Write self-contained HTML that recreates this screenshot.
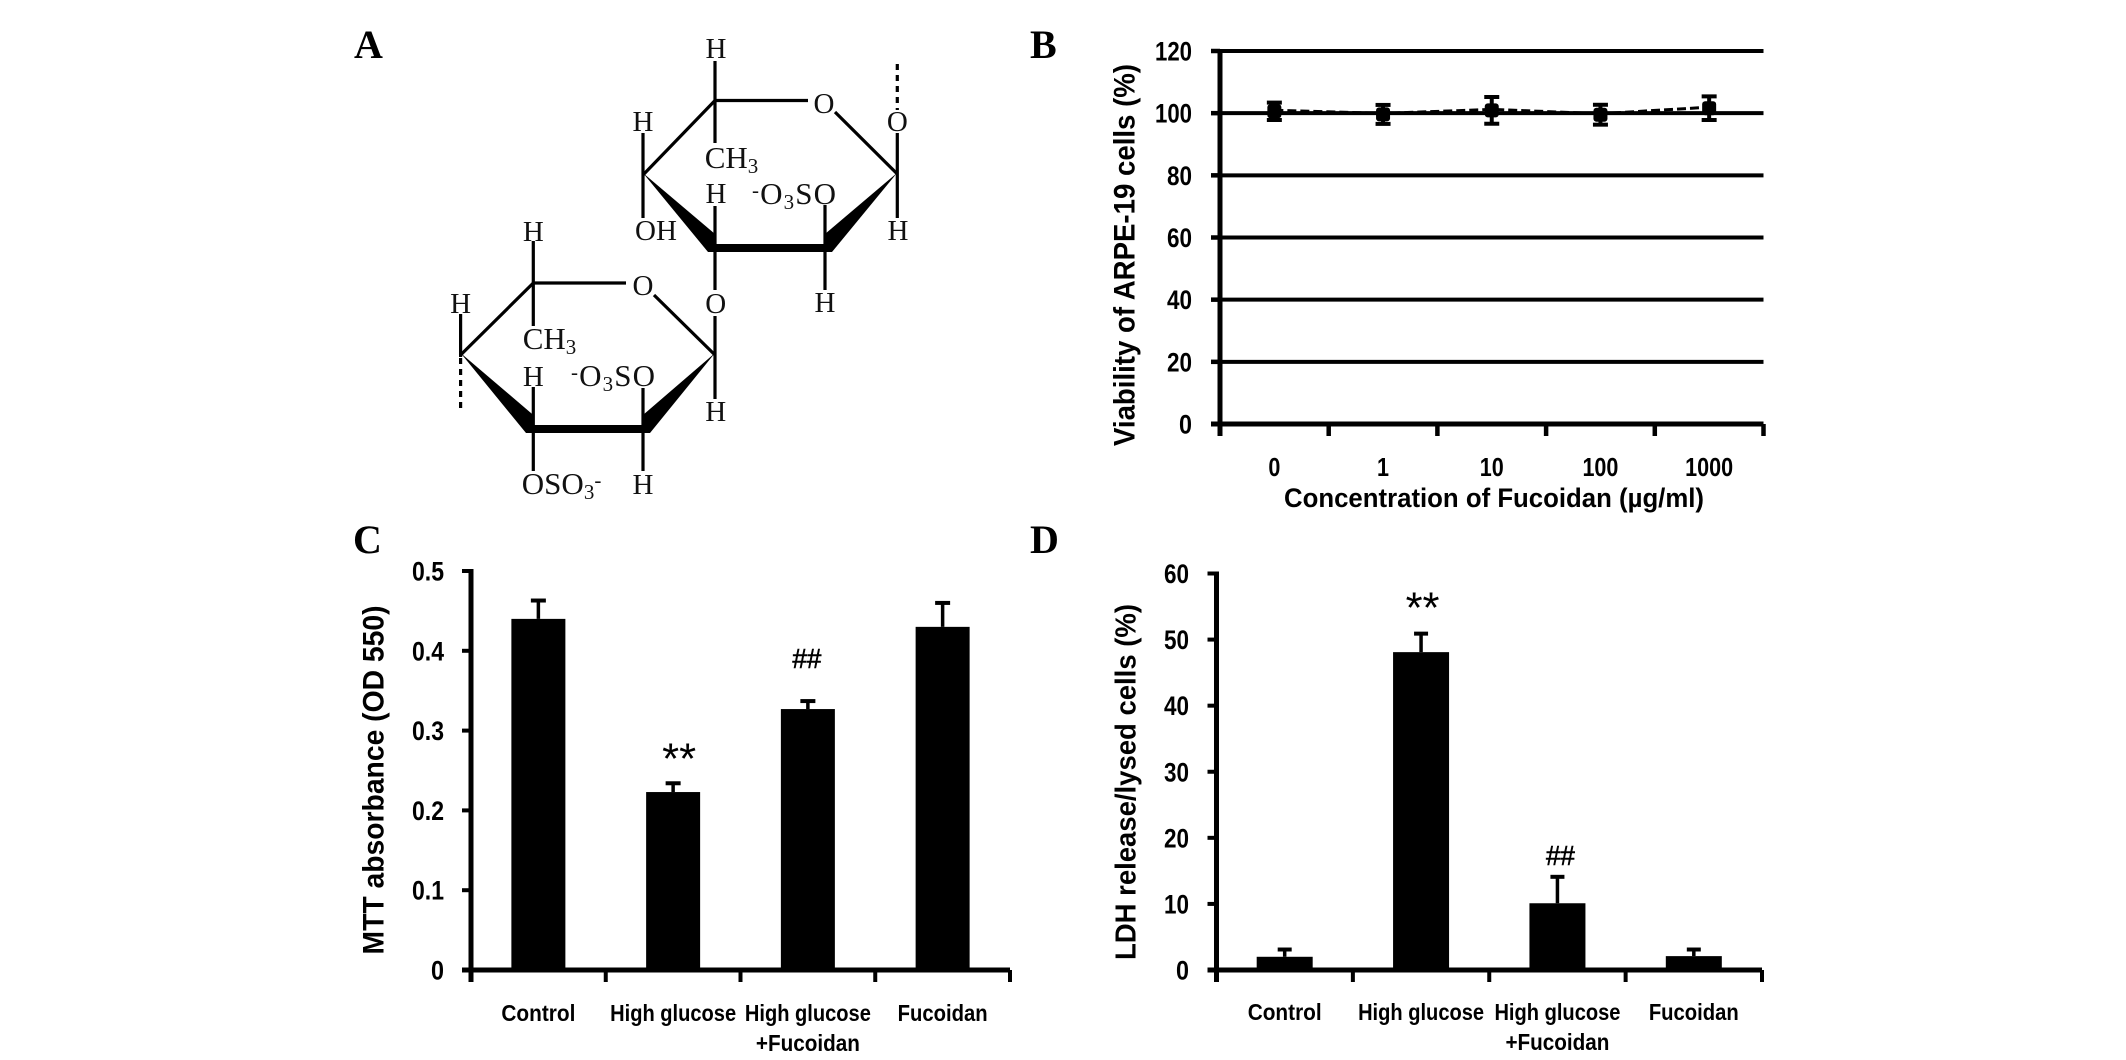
<!DOCTYPE html>
<html>
<head>
<meta charset="utf-8">
<title>Fucoidan figure</title>
<style>
html,body{margin:0;padding:0;background:#fff;}
svg{display:block;}
.mol text{font-family:"Liberation Serif",serif;font-size:29px;fill:#111;}
.mol text.wide{font-size:31px;}
.mol line{stroke:#000;stroke-width:3.2;}
.letter{font-family:"Liberation Serif",serif;font-weight:bold;font-size:40px;fill:#000;}
</style>
</head>
<body>
<svg id="fig" xmlns="http://www.w3.org/2000/svg" width="2126" height="1060" viewBox="0 0 2126 1060">
  <rect width="2126" height="1060" fill="#fff"/>
  <text class="letter" x="354" y="58">A</text>
  <text class="letter" x="1030" y="58">B</text>
  <text class="letter" x="353" y="553">C</text>
  <text class="letter" x="1030" y="553">D</text>

  <g class="mol">
    <g>
      <line x1="715" y1="100.5" x2="808" y2="100.5"/>
      <line x1="835" y1="112" x2="897.3" y2="174"/>
      <line x1="715" y1="100.5" x2="643" y2="175"/>
      <line x1="715" y1="61" x2="715" y2="143"/>
      <line x1="643" y1="133" x2="643" y2="218"/>
      <line x1="897.3" y1="133" x2="897.3" y2="218"/>
      <line x1="715" y1="206" x2="715" y2="290"/>
      <line x1="825" y1="205" x2="825" y2="290"/>
      <line x1="715" y1="316" x2="715" y2="355"/>
      <line x1="897.3" y1="64" x2="897.3" y2="110" stroke-dasharray="6 5"/>
      <polygon points="643,173 715,234 715,252 708,252" fill="#000"/>
      <polygon points="897,173 825,234 825,252 832,252" fill="#000"/>
      <rect x="712" y="244" width="116" height="8" fill="#000"/>
    </g>
    <g>
      <line x1="533.3" y1="283" x2="626" y2="283"/>
      <line x1="654" y1="295" x2="715" y2="355"/>
      <line x1="533.3" y1="283" x2="460.6" y2="355"/>
      <line x1="533.3" y1="241" x2="533.3" y2="326"/>
      <line x1="460.6" y1="314" x2="460.6" y2="357"/>
      <line x1="715" y1="355" x2="715" y2="399"/>
      <line x1="533.3" y1="387" x2="533.3" y2="471"/>
      <line x1="643" y1="388" x2="643" y2="471"/>
      <line x1="460.6" y1="358" x2="460.6" y2="410" stroke-dasharray="6 5"/>
      <polygon points="460.6,353 533.3,415 533.3,433 526,433" fill="#000"/>
      <polygon points="715,353 643,415 643,433 650,433" fill="#000"/>
      <rect x="530" y="425" width="116" height="8" fill="#000"/>
    </g>
    <g text-anchor="middle">
      <text x="716" y="58">H</text>
      <text x="824" y="113">O</text>
      <text x="897.3" y="131">O</text>
      <text x="643" y="131">H</text>
      <text x="898" y="240">H</text>
      <text x="656" y="240">OH</text>
      <text x="716" y="203">H</text>
      <text x="825" y="312">H</text>
      <text x="715.7" y="313">O</text>
    </g>
    <text class="wide" x="704.7" y="168">CH<tspan font-size="21" dy="5">3</tspan></text>
    <text class="wide" x="752" y="204" textLength="84" lengthAdjust="spacing"><tspan font-size="21" dy="-7">-</tspan><tspan dy="7">O</tspan><tspan font-size="21" dy="5">3</tspan><tspan dy="-5">SO</tspan></text>
    <g text-anchor="middle">
      <text x="533.3" y="241">H</text>
      <text x="643" y="295">O</text>
      <text x="460.6" y="313">H</text>
      <text x="533.3" y="386">H</text>
      <text x="715.7" y="421">H</text>
      <text x="643" y="494">H</text>
    </g>
    <text class="wide" x="522.7" y="349">CH<tspan font-size="21" dy="5">3</tspan></text>
    <text class="wide" x="571" y="386" textLength="84" lengthAdjust="spacing"><tspan font-size="21" dy="-7">-</tspan><tspan dy="7">O</tspan><tspan font-size="21" dy="5">3</tspan><tspan dy="-5">SO</tspan></text>
    <text class="wide" x="521.8" y="494">OSO<tspan font-size="21" dy="5">3</tspan><tspan font-size="21" dy="-12">-</tspan></text>
  </g>
</svg>
<script>
// Panel B data
var viabilityCategories = ["0", "1", "10", "100", "1000"];
var viabilityValues = [100.6, 99.6, 100.9, 99.5, 101.6];
var viabilityErrors = [2.8, 3.05, 4.3, 3.2, 3.8];
var viabilityTicks = [0, 20, 40, 60, 80, 100, 120];

// Panel C data
var mttCategories = [["Control"], ["High glucose"], ["High glucose", "+Fucoidan"], ["Fucoidan"]];
var mttValues = [0.44, 0.223, 0.327, 0.43];
var mttErrors = [0.023, 0.011, 0.01, 0.03];
var mttTicks = [0, 0.1, 0.2, 0.3, 0.4, 0.5];
var mttMarks = ["", "**", "##", ""];

// Panel D data
var ldhCategories = [["Control"], ["High glucose"], ["High glucose", "+Fucoidan"], ["Fucoidan"]];
var ldhValues = [2.0, 48.1, 10.1, 2.1];
var ldhErrors = [1.1, 2.8, 4.0, 1.0];
var ldhTicks = [0, 10, 20, 30, 40, 50, 60];
var ldhMarks = ["", "**", "##", ""];

var NS = "http://www.w3.org/2000/svg";
var fig = document.getElementById("fig");

function make(tag, parent, attrs) {
  var el = document.createElementNS(NS, tag);
  for (var k in attrs) { el.setAttribute(k, attrs[k]); }
  parent.appendChild(el);
  return el;
}
function seg(parent, x1, y1, x2, y2, w, name) {
  var el = make("line", parent, {x1: x1, y1: y1, x2: x2, y2: y2, stroke: "#000", "stroke-width": w});
  
  
  return el;
}
function label(parent, x, y, str, size, len, anchor, name, rot, weight) {
  var attrs = {x: x, y: y, "font-size": size, "text-anchor": anchor, fill: "#000",
    "font-family": '"Liberation Sans", sans-serif', "font-weight": weight || "bold"};
  if (len) { attrs.textLength = len; attrs.lengthAdjust = "spacingAndGlyphs"; }
  if (rot) { attrs.transform = "rotate(-90 " + x + " " + y + ")"; }
  var el = make("text", parent, attrs);
  el.textContent = str;
  
  
  return el;
}

/* ---------- shared axis ---------- */
function drawAxes(g, box, ticks, fmt, nCats, tickW, numSize) {
  var yMax = ticks[ticks.length - 1];
  var yS = function (v) { return box.bottom - (v / yMax) * (box.bottom - box.top); };
  seg(g, box.left, box.top - 2, box.left, box.bottom + 12, box.axisW, "y-axis-line");
  seg(g, box.left - 9, box.bottom, box.right, box.bottom, box.axisW, "x-axis-line");
  ticks.forEach(function (t) {
    seg(g, box.left - 9, yS(t), box.left, yS(t), tickW, "y-tick");
    var s = fmt(t);
    var n = s.indexOf(".") >= 0 ? 32 : (s.length === 1 ? 13 : (s.length === 2 ? 25 : 37));
    label(g, box.labelRight, yS(t) + 9.5, s, numSize, n, "end", "y-tick-label");
  });
  for (var i = 0; i <= nCats; i++) {
    var x = box.left + (box.right - box.left) * i / nCats;
    seg(g, x, box.bottom, x, box.bottom + 12, tickW, "x-tick");
  }
  return yS;
}

/* ---------- Panel B ---------- */
(function () {
  var g = make("g", fig, {});
  
  
  var box = {left: 1220, right: 1763.5, top: 51, bottom: 424, axisW: 5, labelRight: 1192};
  var fmt = function (t) { return String(t); };
  var yS = drawAxes(g, box, viabilityTicks, fmt, viabilityCategories.length, 4.5, 27);
  var xS = function (i) { return box.left + (box.right - box.left) * (i + 0.5) / viabilityCategories.length; };
  viabilityTicks.forEach(function (t) {
    if (t === 0) { return; }
    seg(g, box.left, yS(t), box.right, yS(t), 4, "gridline");
  });
  var pts = viabilityValues.map(function (v, i) { return xS(i) + "," + (yS(v) - 1); }).join(" ");
  var line = make("polyline", g, {points: pts, fill: "none", stroke: "#000", "stroke-width": 3, "stroke-dasharray": "9 4"});
  
  
  viabilityValues.forEach(function (v, i) {
    var x = xS(i), hi = yS(v + viabilityErrors[i]), lo = yS(v - viabilityErrors[i]);
    seg(g, x, hi, x, lo, 4, "error-bar");
    seg(g, x - 7.5, hi, x + 7.5, hi, 4, "error-cap");
    seg(g, x - 7.5, lo, x + 7.5, lo, 4, "error-cap");
    var m = make("rect", g, {x: x - 7, y: yS(v) - 7, width: 14, height: 14, rx: 3, fill: "#000"});
    
    
    var w = viabilityCategories[i].length;
    label(g, x, 476, viabilityCategories[i], 26, w === 1 ? 12 : w === 2 ? 24 : w === 3 ? 36 : 48, "middle", "x-tick-label");
  });
  label(g, 1494, 507, "Concentration of Fucoidan (µg/ml)", 27, 420, "middle", "x-axis-title");
  label(g, 1134.5, 255, "Viability of ARPE-19 cells (%)", 30, 382, "middle", "y-axis-title", true);
})();

/* ---------- Bar panels ---------- */
function barPanel(name, box, cats, vals, errs, ticks, marks, fmt, barW, capW, title, titleX, titleY, titleLen, titleSize, labelY, wrapY, markY) {
  var g = make("g", fig, {});
  
  
  var yS = drawAxes(g, box, ticks, fmt, cats.length, 4, 27);
  var xS = function (i) { return box.left + (box.right - box.left) * (i + 0.5) / cats.length; };
  vals.forEach(function (v, i) {
    var x = xS(i), top = yS(v), hi = yS(v + errs[i]);
    seg(g, x, top, x, hi, 3.5, "error-bar");
    seg(g, x - capW, hi, x + capW, hi, 4, "error-cap");
    var b = make("rect", g, {x: x - barW / 2, y: top, width: barW, height: box.bottom - top, fill: "#000"});
    
    
    cats[i].forEach(function (t, j) {
      var len = t === "Control" ? 74 : t === "High glucose" ? 126 : t === "Fucoidan" ? 90 : 104;
      label(g, x, j === 0 ? labelY : wrapY, t, 23, len, "middle", "x-tick-label");
    });
    if (marks[i]) {
      var star = marks[i] === "**";
      var mk = label(g, x + (star ? markY.starX : markY.hashX), yS(v + errs[i]) - (star ? markY.star : markY.hash), marks[i], star ? 44 : 28, star ? 34 : 29, "middle", "significance-mark", false, "normal");
      if (!star) { mk.setAttribute("stroke", "#000"); mk.setAttribute("stroke-width", "0.6"); }
    }
  });
  label(g, titleX, titleY, title, titleSize, titleLen, "middle", "y-axis-title", true);
}

barPanel("mtt-chart", {left: 471, right: 1010, top: 571, bottom: 970, axisW: 5, labelRight: 444},
  mttCategories, mttValues, mttErrors, mttTicks, mttMarks,
  function (t) { return t === 0 ? "0" : t.toFixed(1); },
  54, 7.5, "MTT absorbance  (OD 550)", 383.5, 780, 349, 30, 1021, 1051, {star: 10, hash: 33, starX: 6, hashX: -1});

barPanel("ldh-chart", {left: 1216.5, right: 1762, top: 573.5, bottom: 970, axisW: 5, labelRight: 1189},
  ldhCategories, ldhValues, ldhErrors, ldhTicks, ldhMarks,
  function (t) { return String(t); },
  56, 7, "LDH release/lysed cells (%)", 1135.5, 782, 356, 29, 1020, 1050, {star: 11, hash: 12, starX: 1.5, hashX: 3});
</script>
</body>
</html>
